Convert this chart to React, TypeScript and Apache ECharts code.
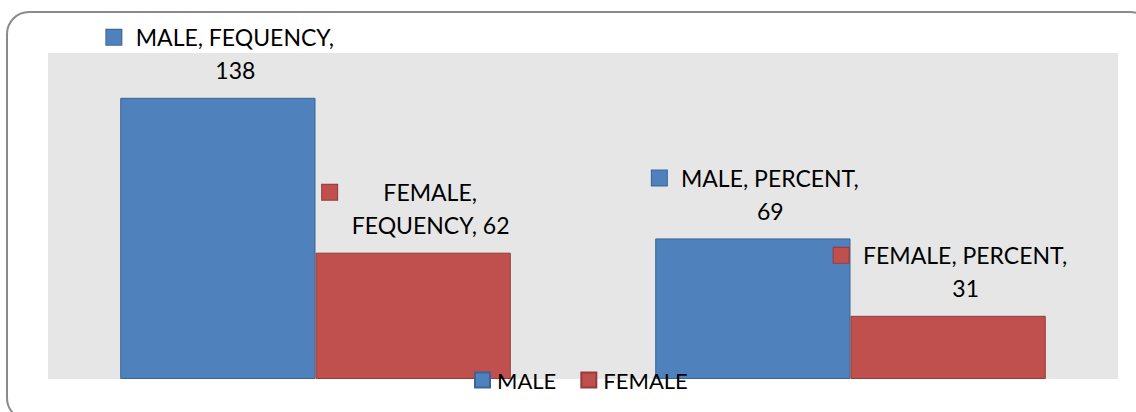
import React, { useEffect, useRef } from "react";
import * as echarts from "echarts";

const categories = ["FEQUENCY", "PERCENT"];
const seriesNames = ["MALE", "FEMALE"];
const maleValues = [138, 69];
const femaleValues = [62, 31];
// number of comma-separated parts placed on the first label line
const labelBreaks = [
  [2, 2],
  [1, 2],
];

const FONT = "Lato";
const FS = 23;
const colors = ["#4F81BD", "#C0504D"];
const borders = ["#3B6497", "#953B39"];

function measure(t: string): number {
  const c = document.createElement("canvas").getContext("2d");
  if (!c) return t.length * FS * 0.55;
  c.font = `${FS}px ${FONT}`;
  return c.measureText(t).width;
}

function buildData(values: number[], s: number) {
  return values.map((v, i) => {
    const parts = [seriesNames[s], categories[i], String(v)];
    const k = labelBreaks[s][i];
    const l1 = parts.slice(0, k).join(", ") + ",";
    const l2 = parts.slice(k).join(", ");
    const w = Math.ceil(Math.max(measure(l1), measure(l2))) + 2;
    return {
      value: v,
      label: {
        formatter: `{sq|}{g|}{t|${l1}}\n{sp|}{g|}{t|${l2}}`,
        rich: {
          sq: {
            width: 15,
            height: 15,
            backgroundColor: colors[s],
            borderColor: borders[s],
            borderWidth: 1,
          },
          sp: { width: 16, height: 15 },
          g: { width: 13 },
          t: {
            width: w,
            align: "center",
            fontSize: FS,
            fontFamily: FONT,
            color: "#000",
            lineHeight: 33,
          },
        },
      },
    };
  });
}

export default function App() {
  const ref = useRef<HTMLDivElement>(null);
  useEffect(() => {
    if (!ref.current) return;
    const chart = echarts.init(ref.current, undefined, { renderer: "svg" });
    const mkSeries = (values: number[], s: number) => ({
      name: seriesNames[s],
      type: "bar",
      data: buildData(values, s),
      barGap: "0%",
      barCategoryGap: "27%",
      itemStyle: {
        color: colors[s],
        borderColor: borders[s],
        borderWidth: 1,
      },
      label: {
        show: true,
        position: "top",
        distance: 11,
        offset: [3, 0],
        lineHeight: 33,
      },
    });
    chart.setOption({
      animation: false,
      textStyle: { fontFamily: FONT },
      grid: {
        left: 48,
        right: 18,
        top: 53,
        bottom: 33,
        show: true,
        backgroundColor: "#E6E6E6",
        borderWidth: 0,
      },
      xAxis: {
        type: "category",
        data: categories,
        axisLine: { show: false },
        axisTick: { show: false },
        axisLabel: { show: false },
      },
      yAxis: {
        type: "value",
        min: 0,
        max: 160,
        show: false,
        splitLine: { show: false },
      },
      legend: {
        left: 474,
        top: 368,
        padding: 0,
        itemWidth: 15,
        itemHeight: 15,
        itemGap: 24,
        icon: "rect",
        textStyle: {
          fontSize: 22,
          fontFamily: FONT,
          color: "#000",
          lineHeight: 24,
          padding: [0, 0, 0, 2],
        },
        data: seriesNames,
      },
      graphic: [
        {
          type: "rect",
          silent: true,
          shape: { x: 7, y: 12, width: 1145, height: 408, r: 22 },
          style: { fill: "none", stroke: "#8A8A8A", lineWidth: 2 },
        },
      ],
      series: [mkSeries(maleValues, 0), mkSeries(femaleValues, 1)],
    });
    return () => chart.dispose();
  }, []);
  return (
    <div
      ref={ref}
      style={{ position: "absolute", left: 0, top: 0, width: 1136, height: 412, background: "#fff" }}
    />
  );
}
